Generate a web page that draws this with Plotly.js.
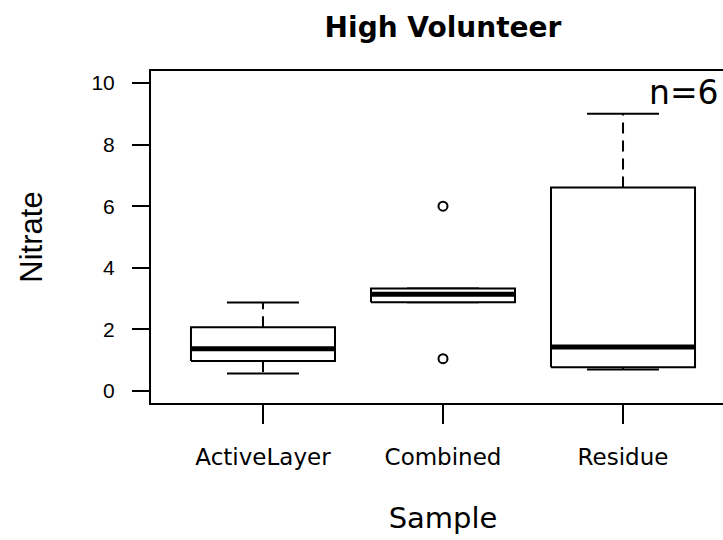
<!DOCTYPE html>
<html>
<head>
<meta charset="utf-8">
<script src="https://cdn.plot.ly/plotly-3.0.1.min.js"></script>
<style>
  html, body { margin: 0; padding: 0; overflow: hidden; background: #ffffff; width: 723px; height: 540px; }
  #chart { width: 760px; height: 540px; }
</style>
</head>
<body>
<div id="chart"></div>
<script>
// ---- data ----
const categories = ['ActiveLayer', 'Combined', 'Residue'];
const lowerWhisker = [0.57, 2.88, 0.70];
const q1 = [0.97, 2.88, 0.77];
const medians = [1.37, 3.14, 1.43];
const q3 = [2.07, 3.33, 6.61];
const upperWhisker = [2.87, 3.33, 9.00];
const outlierCategory = [1, 1];
const outlierValues = [6.0, 1.05];
const yTicks = [0, 2, 4, 6, 8, 10];
const sampleSizeLabel = 'n=6';

// ---- build R-style box glyphs through the axes ----
const half = 0.4;   // box half-width (boxwex 0.8)
const capHalf = 0.2; // staple half-width
const boxX = [], boxY = [], medX = [], medY = [], whiskX = [], whiskY = [], capX = [], capY = [];
categories.forEach((c, i) => {
  boxX.push(i - half, i + half, i + half, i - half, i - half, null);
  boxY.push(q1[i], q1[i], q3[i], q3[i], q1[i], null);
  medX.push(i - half, i + half, null);
  medY.push(medians[i], medians[i], null);
  whiskX.push(i, i, null, i, i, null);
  whiskY.push(q3[i], upperWhisker[i], null, q1[i], lowerWhisker[i], null);
  capX.push(i - capHalf, i + capHalf, null, i - capHalf, i + capHalf, null);
  capY.push(upperWhisker[i], upperWhisker[i], null, lowerWhisker[i], lowerWhisker[i], null);
});

const traces = [
  { type: 'scatter', mode: 'lines', x: whiskX, y: whiskY, line: { color: '#000', width: 2, dash: '11px,7px' }, hoverinfo: 'skip' },
  { type: 'scatter', mode: 'lines', x: capX, y: capY, line: { color: '#000', width: 2 }, hoverinfo: 'skip' },
  { type: 'scatter', mode: 'lines', x: boxX, y: boxY, fill: 'toself', fillcolor: '#ffffff', line: { color: '#000', width: 2 }, hoverinfo: 'skip' },
  { type: 'scatter', mode: 'lines', x: medX, y: medY, line: { color: '#000', width: 5 }, hoverinfo: 'skip' },
  { type: 'scatter', mode: 'markers', x: outlierCategory, y: outlierValues,
    marker: { symbol: 'circle-open', size: 9, color: '#000', line: { width: 2, color: '#000' } }, hoverinfo: 'skip' }
];

const layout = {
  width: 760, height: 540,
  margin: { l: 151, r: 25, t: 71, b: 137, pad: 0 },
  paper_bgcolor: '#ffffff', plot_bgcolor: '#ffffff',
  showlegend: false,
  title: {
    text: 'High Volunteer',
    font: { family: 'DejaVu Sans', size: 28, color: '#000', weight: 'bold' },
    x: 0.5, xref: 'paper', xanchor: 'center',
    y: 0.949, yref: 'container', yanchor: 'middle'
  },
  xaxis: {
    range: [-0.622, 2.622],
    tickmode: 'array', tickvals: categories.map((c, i) => i), ticktext: categories,
    ticks: 'outside', ticklen: 19, tickwidth: 2, tickcolor: '#000',
    ticklabelstandoff: 13,
    tickfont: { family: 'DejaVu Sans', size: 23, color: '#000' },
    showline: true, mirror: true, linecolor: '#000', linewidth: 2,
    showgrid: false, zeroline: false,
    title: { text: 'Sample', font: { family: 'DejaVu Sans', size: 29, color: '#000' }, standoff: 39 }
  },
  yaxis: {
    range: [-0.39, 10.39],
    tickmode: 'array', tickvals: yTicks, ticktext: yTicks.map(String),
    ticks: 'outside', ticklen: 17, tickwidth: 2, tickcolor: '#000',
    ticklabelstandoff: 13,
    tickfont: { family: 'Liberation Sans', size: 21, color: '#000' },
    showline: true, mirror: true, linecolor: '#000', linewidth: 2,
    showgrid: false, zeroline: false,
    title: { text: 'Nitrate', font: { family: 'Liberation Sans', size: 31, color: '#000' }, standoff: 40 }
  },
  annotations: [{
    text: sampleSizeLabel, xref: 'paper', yref: 'paper',
    x: 0.849, y: 0.934, xanchor: 'left', yanchor: 'middle', showarrow: false,
    font: { family: 'DejaVu Sans', size: 33, color: '#000' }
  }]
};

Plotly.newPlot('chart', traces, layout, { displayModeBar: false, staticPlot: true });
</script>
</body>
</html>
